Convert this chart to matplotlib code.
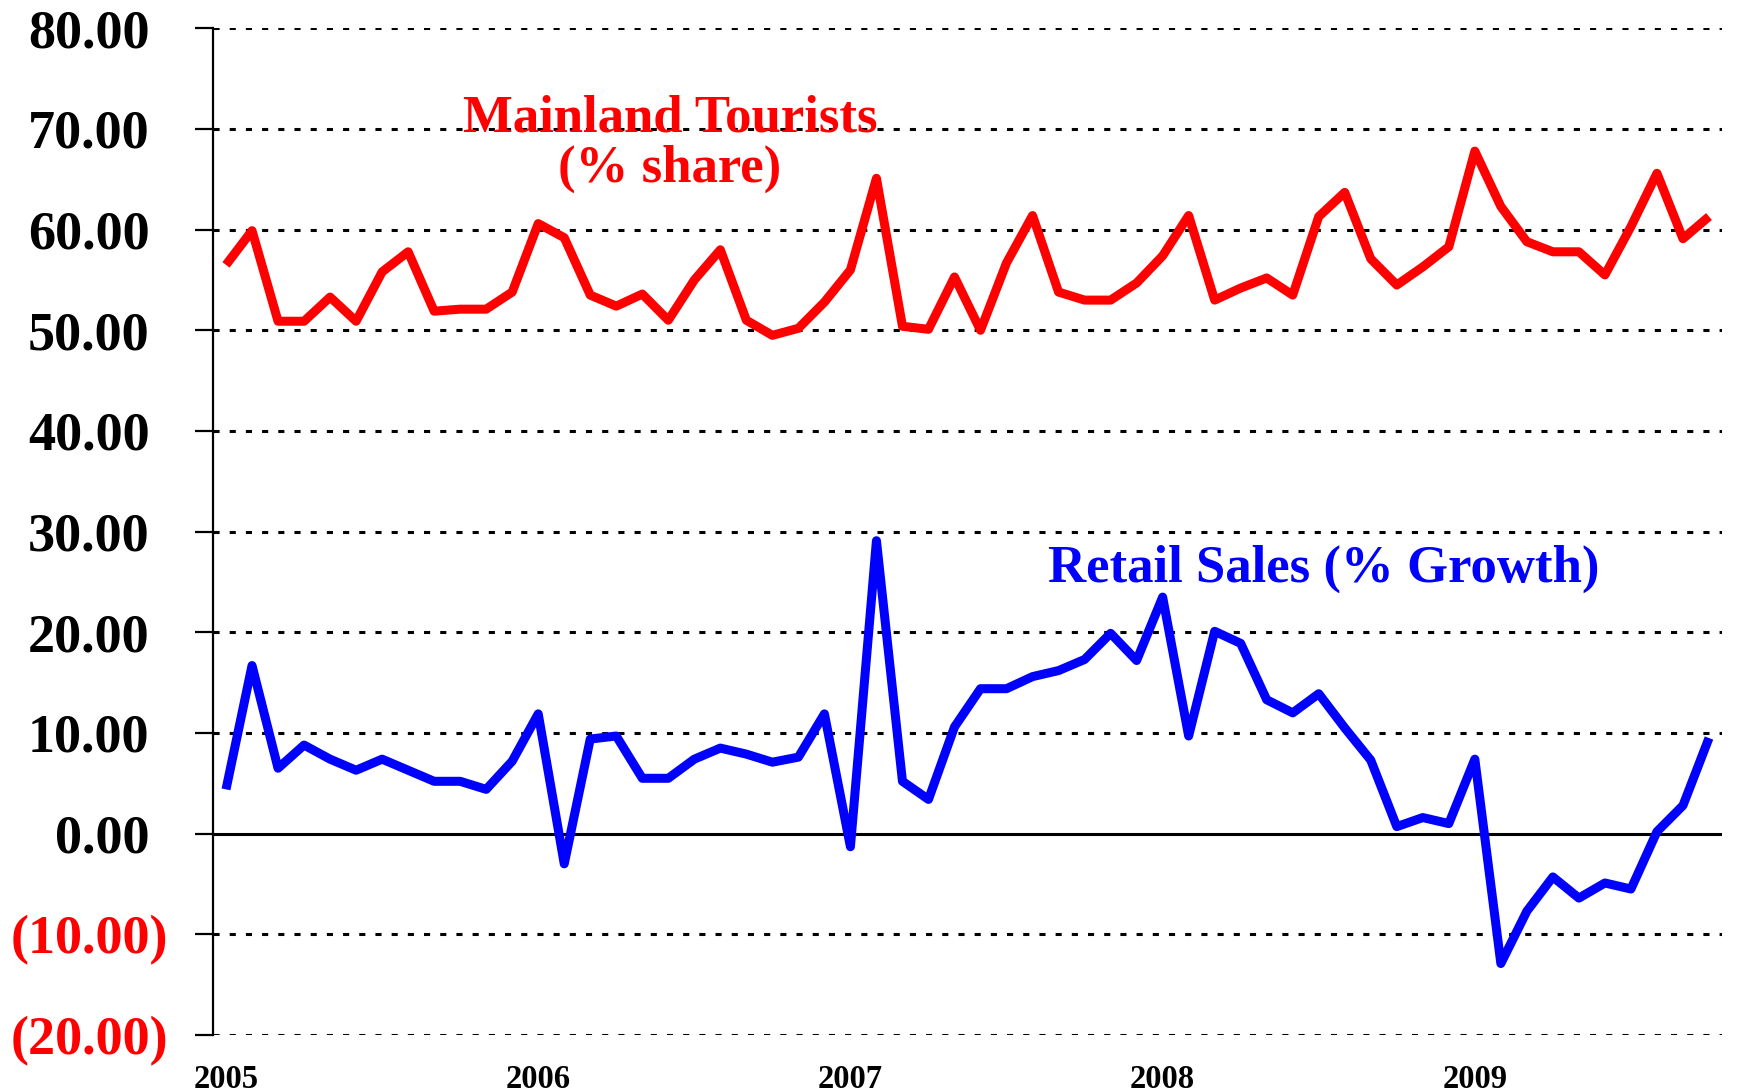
import matplotlib
matplotlib.use("Agg")
import matplotlib.pyplot as plt
import numpy as np
import pandas as pd
from matplotlib.transforms import ScaledTranslation

# ---- data -------------------------------------------------------------
months = pd.period_range("2005-01", "2009-10", freq="M").strftime("%Y-%m").tolist()

mainland_share = [56.5, 59.9, 50.9, 50.9, 53.3, 50.9, 55.8, 57.8, 51.9, 52.1,
                  52.1, 53.8, 60.6, 59.2, 53.5, 52.4, 53.6, 51.0, 55.0, 58.0,
                  51.0, 49.5, 50.2, 52.8, 56.0, 65.1, 50.4, 50.1, 55.3, 50.0,
                  56.7, 61.4, 53.8, 53.0, 53.0, 54.7, 57.4, 61.4, 53.0, 54.2,
                  55.2, 53.5, 61.3, 63.7, 57.1, 54.5, 56.3, 58.3, 67.8, 62.3,
                  58.8, 57.8, 57.8, 55.5, 60.3, 65.6, 59.1, 61.3]

retail_growth = [4.4, 16.7, 6.5, 8.8, 7.4, 6.3, 7.4, 6.3, 5.2, 5.2,
                 4.4, 7.2, 11.9, -3.0, 9.4, 9.7, 5.5, 5.5, 7.4, 8.5,
                 7.9, 7.1, 7.6, 11.9, -1.3, 29.1, 5.2, 3.4, 10.6, 14.4,
                 14.4, 15.6, 16.2, 17.3, 19.9, 17.2, 23.5, 9.7, 20.1, 18.9,
                 13.3, 12.0, 13.9, 10.5, 7.3, 0.7, 1.6, 1.0, 7.4, -12.9,
                 -7.7, -4.3, -6.4, -4.9, -5.5, 0.2, 2.8, 9.5]

year_labels = ["2005", "2006", "2007", "2008", "2009"]
year_months = ["2005-01", "2006-01", "2007-01", "2008-01", "2009-01"]
y_ticks = [80, 70, 60, 50, 40, 30, 20, 10, 0, -10, -20]

# ---- figure -----------------------------------------------------------
FONT = "Liberation Serif"
fig = plt.figure(figsize=(17.41, 10.92), dpi=100)
ax = fig.add_axes([213 / 1741, 1 - 1035 / 1092, (1722 - 213) / 1741, (1035 - 28.3) / 1092])

x = np.arange(len(months))
ax.set_xlim(-0.5, len(months) - 0.5)
ax.set_ylim(-20, 80)

# grid lines (dashed) and zero line (solid)
for v in y_ticks:
    if v != 0:
        ax.axhline(v, color="black", lw=2.2, dashes=(2.0, 3.3), zorder=1)
ax.axhline(0, color="black", lw=2.2, zorder=2)

ax.plot(x, mainland_share, color="#FF0000", lw=6.5, solid_capstyle="butt",
        solid_joinstyle="round", zorder=3)
ax.plot(x, retail_growth, color="#0000FF", lw=6.5, solid_capstyle="butt",
        solid_joinstyle="round", zorder=3)

# spines
for s in ["top", "right", "bottom"]:
    ax.spines[s].set_visible(False)
ax.spines["left"].set_linewidth(1.6)
ax.spines["left"].set_color("black")

# y ticks
ax.set_yticks(y_ticks)
labels = [f"{v:.2f}" if v >= 0 else f"({abs(v):.2f})" for v in y_ticks]
ax.set_yticklabels(labels, fontfamily=FONT, fontweight="bold", fontsize=39)
ax.tick_params(axis="y", direction="out", length=13, width=1.6, pad=19)
shift = ScaledTranslation(-19 / 100, 0, fig.dpi_scale_trans)
for v, lab in zip(y_ticks, ax.get_yticklabels()):
    if v < 0:
        lab.set_color("#FF0000")
    else:
        lab.set_transform(lab.get_transform() + shift)

# x ticks
ax.set_xticks([months.index(m) for m in year_months])
ax.set_xticklabels(year_labels, fontfamily=FONT, fontweight="bold", fontsize=23.5)
ax.tick_params(axis="x", length=0, pad=21)

# annotations
ax.text(17.06, 68.55, "Mainland Tourists\n(% share)", color="#FF0000",
        fontfamily=FONT, fontweight="bold", fontsize=38, ha="center", va="center",
        linespacing=1.05)
ax.text(42.2, 26.3, "Retail Sales (% Growth)", color="#0000FF",
        fontfamily=FONT, fontweight="bold", fontsize=38, ha="center", va="center")

fig.savefig("out.png", dpi=100)
